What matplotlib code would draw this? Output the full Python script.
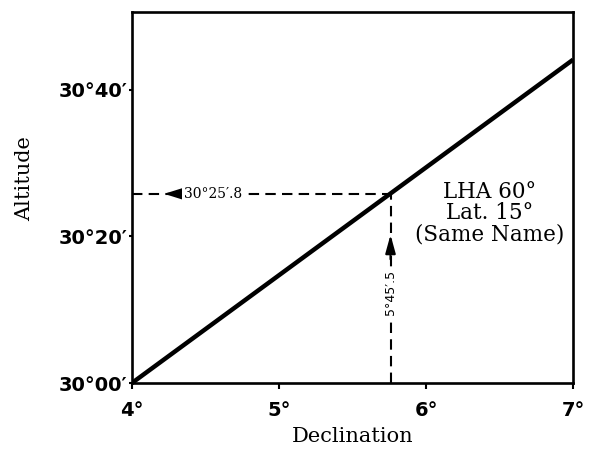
import matplotlib
matplotlib.use("Agg")
import matplotlib.pyplot as plt

# Data
decl = [4.0, 7.0]            # degrees
alt_min = [0.0, 44.1]        # minutes above 30°
x_ticks = [4, 5, 6, 7]
x_labels = ["4°", "5°", "6°", "7°"]
y_ticks = [0, 20, 40]
y_labels = ["30°00′", "30°20′", "30°40′"]
pt_decl = 5 + 45.5 / 60      # 5°45.5'
pt_alt = 25.8                # 30°25.8'

fig = plt.figure(figsize=(5.89, 4.53), dpi=100)
ax = fig.add_axes([0.224, 0.1545, 0.749, 0.819])
ax.set_xlim(4, 7)
ax.set_ylim(0, 50.6)

ax.plot(decl, alt_min, color="black", lw=3.2, solid_capstyle="butt")

# dashed guides
ax.plot([pt_decl, pt_decl], [0, pt_alt], color="black", lw=1.5, ls=(0, (5, 3)))
ax.plot([4, pt_decl], [pt_alt, pt_alt], color="black", lw=1.5, ls=(0, (5, 3)))
# arrows
ax.annotate("", xy=(4.2, pt_alt), xytext=(4.36, pt_alt),
            arrowprops=dict(arrowstyle="-|>,head_length=0.8,head_width=0.25",
                            color="black", lw=1.5, mutation_scale=14))
ax.annotate("", xy=(pt_decl, 20.6), xytext=(pt_decl, 16.5),
            arrowprops=dict(arrowstyle="-|>,head_length=0.8,head_width=0.22",
                            color="black", lw=1.5, mutation_scale=14))

ax.text(4.55, pt_alt, "30°25′.8", ha="center", va="center", fontsize=10,
        family="DejaVu Serif", bbox=dict(facecolor="white", edgecolor="none", pad=1))
ax.text(pt_decl, 12.3, "5°45′.5", ha="center", va="center", fontsize=9, rotation=90,
        family="DejaVu Sans", bbox=dict(facecolor="white", edgecolor="none", pad=1))

ax.text(6.43, 23.2, "LHA 60°\nLat. 15°\n(Same Name)", ha="center", va="center",
        fontsize=15.5, family="DejaVu Serif", linespacing=0.95)

ax.set_xticks(x_ticks)
ax.set_xticklabels(x_labels, fontsize=14, fontweight="bold", family="DejaVu Sans")
ax.set_yticks(y_ticks)
ax.set_yticklabels(y_labels, fontsize=14, fontweight="bold", family="DejaVu Sans")
ax.tick_params(axis="x", direction="out", length=4, width=1.5, pad=9)
ax.tick_params(axis="y", direction="out", length=2, width=1.5, pad=1)

ax.set_xlabel("Declination", fontsize=15, family="DejaVu Serif")
ax.set_ylabel("Altitude", fontsize=15, family="DejaVu Serif")
ax.xaxis.set_label_coords(0.5, -0.118)
ax.yaxis.set_label_coords(-0.222, 0.55)

for s in ax.spines.values():
    s.set_linewidth(1.9)

fig.savefig("out.png", dpi=100)
